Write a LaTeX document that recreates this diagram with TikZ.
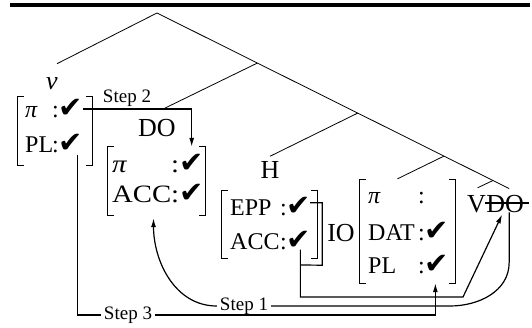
\documentclass[tikz,border=0pt]{standalone}
\usepackage{fontspec}
\setmainfont{Liberation Serif}
\newfontfamily\wideserif{Liberation Serif}[FakeStretch=1.15]
\newfontfamily\ckfont{DejaVu Sans}
\usetikzlibrary{arrows.meta,calc}

\newcommand\ck{{\ckfont\fontsize{29}{30}\selectfont ✔}}

\tikzset{
  feat/.style={inner sep=0pt,anchor=base west,font=\fontsize{24}{28}\selectfont},
  widefeat/.style={feat,font=\wideserif\fontsize{25}{28}\selectfont},
  cat/.style={inner sep=0pt,font=\fontsize{26}{30}\selectfont},
  steplab/.style={inner sep=3pt,font=\fontsize{19}{22}\selectfont},
  bundle/.style={inner sep=0pt},
  treeline/.style={line width=.8pt},
  brk/.style={line width=1.1pt},
  link/.style={line width=1.2pt},
  arr/.style={-{Latex[length=9pt,width=5pt]}}
}

\begin{document}
\begin{tikzpicture}[x=1pt,y=1pt]
  \path[use as bounding box] (0,0) rectangle (532,327);
  \draw[line width=4pt] (10,322) -- (530,322);

  % categories
  \node[cat] (v) at (52,243) {\itshape v};
  \node[cat] (DO) at (157,199) {DO};
  \node[cat] (H) at (270,157) {H};
  \node[cat] (IO) at (341,94) {IO};
  \node[cat,anchor=base west] (V) at (467,115) {V};
  \node[cat,anchor=base west] (DOlow) at (V.base east) {DO};
  \draw[link] ([xshift=-1pt,yshift=9pt]DOlow.base west) -- ([xshift=5pt,yshift=9pt]DOlow.base east);

  % feature bundles
  \node[bundle,minimum width=74pt,minimum height=68pt] (vF) at (55,196) {};
  \node[bundle,minimum width=97pt,minimum height=68pt] (DOF) at (156.5,146) {};
  \node[bundle,minimum width=95pt,minimum height=67pt] (HF) at (269.5,102.5) {};
  \node[bundle,minimum width=95pt,minimum height=103pt] (IOF) at (407.5,95.5) {};
  \foreach \b in {vF,DOF,HF,IOF}{
    \draw[brk] ([xshift=6pt]\b.north west) -| (\b.south west) -- ++(6,0);
    \draw[brk] ([xshift=-6pt]\b.north east) -| (\b.south east) -- ++(-6,0);
  }

  \node[feat] (vpi) at (25,209) {\itshape π};
  \node[feat] (vpiC) at (52,209) {:\ck};
  \node[feat] (vpl) at (25,175) {PL};
  \node[feat] (vplC) at (52,175) {:\ck};

  \node[widefeat] (dpi) at (112,155) {\itshape π};
  \node[widefeat] (dpiC) at (171,155) {:\ck};
  \node[widefeat] (dacc) at (112,125) {ACC};
  \node[widefeat] (daccC) at (171,125) {:\ck};

  \node[feat] (hepp) at (230,112) {EPP};
  \node[feat] (heppC) at (280,112) {:\ck};
  \node[feat] (hacc) at (230,78) {ACC};
  \node[feat] (haccC) at (280,78) {:\ck};

  \node[feat] (ipi) at (368,124) {\itshape π};
  \node[feat] (ipiC) at (418,124) {:};
  \node[feat] (idat) at (368,87) {DAT};
  \node[feat] (idatC) at (418,87) {:\ck};
  \node[feat] (ipl) at (368,54) {PL};
  \node[feat] (iplC) at (418,54) {:\ck};

  % tree
  \coordinate (root) at (157,314);
  \coordinate (top) at ($(DOlow.north)+(4,6)$);
  \coordinate (n1) at ($(root)!.285!(top)$);
  \coordinate (n2) at ($(root)!.57!(top)$);
  \coordinate (n3) at ($(root)!.815!(top)$);
  \coordinate (n4) at ($(root)!.954!(top)$);
  \draw[treeline] ($(v.north)+(5,14)$) -- (root) -- (top);
  \draw[treeline] (n1) -- ($(DO.north)+(6,10)$);
  \draw[treeline] (n2) -- ($(H.north)+(0,5)$);
  \draw[treeline] (n3) -- ($(IOF.north)+(-10,1)$);
  \draw[treeline] (n4) -- ($(V.north)+(1,7)$);

  % steps
  \node[steplab] (st2) at (127,229) {Step 2};
  \node[steplab] (st1) at (244,21) {Step 1};
  \node[steplab] (st3) at (128,12) {Step 3};

  \coordinate (s2) at ($(dpiC.east)+(-12,0)$);
  \draw[link,arr] (vpiC.east) -| (s2 |- DOF.north);

  \coordinate (s3) at ($(vplC.south east)+(-6,-2)$);
  \coordinate (s3end) at ($(iplC.east)+(-14,0)$);
  \draw[link] (s3) |- (st3.west);
  \draw[link,arr] (st3.east) -| (s3end |- IOF.south);

  \draw[link] ([xshift=4pt]DOlow.south) -- ++(0,-50) to[out=-90,in=0] (450,0 |- st1.east) -- (st1.east);
  \draw[link,arr] (st1.west) to[out=180,in=-90] ([xshift=-3pt,yshift=-3pt]DOF.south);

  \coordinate (hS) at ($(haccC.south east)+(-11,0)$);
  \draw[link,arr] (hS) |- (463,30) -- ([xshift=-3pt,yshift=-2pt]DOlow.south);
  \draw[link] ($(HF.north east)+(-7,-12)$) -| ($(HF.south east)+(5,-7)$) -- (hS |- 0,62);
\end{tikzpicture}
\end{document}
